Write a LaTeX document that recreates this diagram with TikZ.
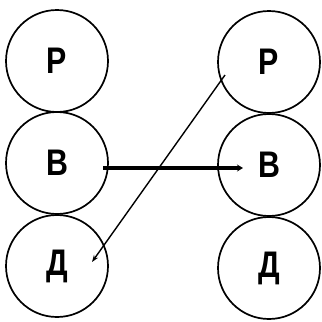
\documentclass[tikz,border=0pt]{standalone}
\usepackage{fontspec}
\setmainfont{Liberation Sans}
\usetikzlibrary{arrows.meta}
\newcommand{\lett}[1]{\scalebox{0.82}[1]{#1}}
\begin{document}
\begin{tikzpicture}[x=1pt,y=-1pt,
  ball/.style={circle,draw,line width=1.7pt,minimum size=102pt,inner sep=0pt,font=\fontsize{37}{37}\selectfont\bfseries},
  thick/.style={line width=4pt,-{Stealth[length=6pt,width=7pt]}},
  thin/.style={line width=1.4pt,-{Stealth[length=7pt,width=5pt]}}]
\useasboundingbox (0,0) rectangle (322,322);
\node[ball] (lp) at (57,61) {\lett{Р}};
\node[ball] (lb) at (57,163) {\lett{В}};
\node[ball] (ld) at (57,266) {\lett{Д}};
\node[ball] (rp) at (269,62) {\lett{Р}};
\node[ball] (rb) at (269,165) {\lett{В}};
\node[ball] (rd) at (269,268) {\lett{Д}};
\coordinate (a1) at (103,168);
\coordinate (a2) at (243,168);
\coordinate (b1) at (225,75);
\coordinate (b2) at (92,262);
\draw[thick] (a1) -- (a2);
\draw[thin] (b1) -- (b2);
\end{tikzpicture}
\end{document}
